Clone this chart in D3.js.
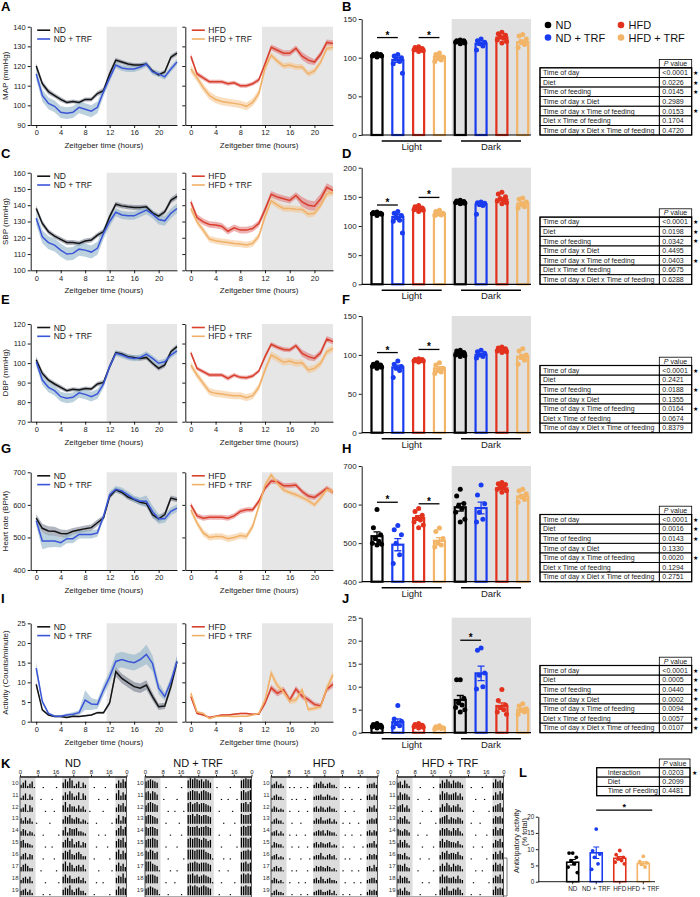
<!DOCTYPE html>
<html>
<head>
<meta charset="utf-8">
<script src="https://cdn.jsdelivr.net/npm/d3@7"></script>
<style>
body { margin: 0; background: #fff; }
svg { display: block; font-family: "Liberation Sans", Arial, sans-serif; }
</style>
</head>
<body>
<div id="fig"></div>
<script>

// ---------- data ----------
var zt = [0,1,2,3,4,5,6,7,8,9,10,11,12,13,14,15,16,17,18,19,20,21,22,23];
var ztTicks = [0,4,8,12,16,20];

// MAP
var mapND = [120,111,107,105,103,101.5,102,101.5,103,103,106,107.5,116,123,122,121,120.5,120.5,121,117.5,115.5,117,124.5,126.5];
var mapNDsem = [1.5,1.5,1.5,1.2,1.2,1,1,1,1,1,1.2,1.5,1.5,1.2,1,1,1,1,1,1,1,1,1.2,1.2];
var mapTRF = [116,105,101,99.5,96.5,96,96.5,99,98,97,99,107,114,120.5,119,118.5,118.5,119.5,121,117,116,114.5,118.5,122];
var mapTRFsem = [3,3,3,3,3,3,3,3,3,3,3,2.5,2,1.5,1.5,1.5,1.5,1.5,1.5,1.5,1.5,1.5,1.5,1.5];
var mapHFD = [125,116,114,112,112,112,111,111.5,110,110,111,113,121,129.5,128,126.5,126.5,129,125,123,122,126,132,131.5];
var mapHFDsem = [1.5,1.2,1.2,1,1,1,1,1,1,1,1,1.2,1.5,1.5,1.5,1.5,1.5,1.5,2,2,1.5,1.5,1.5,1.5];
var mapHTRF = [118.5,114,109,105,103,102,101.5,101,100.5,99.5,101.5,106,119,125.5,122.5,120,120.5,119.5,119.5,116,117.5,122,129,129.5];
var mapHTRFsem = [2,2,2,2,2,2,2,2,2,2,2,2,2,1.5,1.5,1.5,1.5,1.5,1.5,1.5,1.5,1.5,1.5,1.5];

// SBP
var sbpND = [138,128.8,123.7,121,119,117.1,117.1,116.5,118,118.6,121.6,123.7,133,140.6,139.6,139,138.6,138.6,139,135.3,133.3,136,143,145.5];
var sbpNDsem = [2,1.8,1.5,1.5,1.5,1.5,1.5,1.5,1.5,1.5,1.5,1.8,1.8,1.5,1.5,1.5,1.5,1.5,1.5,1.5,1.5,1.5,1.8,1.8];
var sbpTRF = [132,120.6,117,115.5,112.4,110,110.4,113,112.4,111.2,113.5,122.7,130,135.7,134,133.5,133.5,135.3,137,134.5,131.2,130.4,135,138];
var sbpTRFsem = [4,4,4,4,4,4,4,4,4,4,4,3.5,3,2.5,2.5,2.5,2.5,2.5,2.5,2.5,3,3,3,3];
var sbpHFD = [142,132.4,129.8,128.2,127.8,127.1,124,126.1,124.7,124.7,125.7,128.8,137.3,146.7,145,144,143,146,142,140,139.4,144,151,149];
var sbpHFDsem = [2,2,2,2,2,2,2,2,2,2,2,2,2,2,2,2,2,2,3,3,3,3,2.5,2.5];
var sbpHTRF = [138,129.8,124.7,119.2,118.2,117.5,117.1,116.5,116.1,115.5,116.5,121,133,142.7,140,138,138,137.6,137.4,134.5,135,140,147,148];
var sbpHTRFsem = [2,2,2,2,2,2,2,2,2,2,2,2,2,2,2,2,2,2,2,2,2,2,2,2];

// DBP
var dbpND = [101.7,94.7,91.3,89.3,87.6,85.9,86.6,86.2,87,86.7,89.3,90.1,98.2,105.3,104.6,103.3,102.8,102.4,102.9,99.9,97.3,99,105.8,108.4];
var dbpNDsem = [1.5,1.5,1.2,1.2,1.2,1,1,1,1,1,1.2,1.2,1.2,1.2,1.2,1.2,1.2,1.2,1.2,1.2,1.2,1.2,1.2,1.2];
var dbpTRF = [100.7,91.3,87.6,85.9,82.8,82,82.5,84.8,84,82.8,84.2,89.3,98.2,105,104.1,102.9,102.4,102.9,104.6,102.4,99.9,100.7,104.1,106.3];
var dbpTRFsem = [2.5,2.5,2.5,2.5,2.5,2.5,2.5,2.5,2.5,2.5,2.5,2,1.5,1.5,1.5,1.5,1.5,1.5,1.5,1.5,1.5,1.5,1.5,1.5];
var dbpHFD = [105.3,97.3,95.6,93.9,93.9,93.9,92.2,93.9,92.7,92.5,93.4,95.9,103.3,109.6,108.1,107,106.7,108.9,105,103.3,102.4,105.3,112.3,111];
var dbpHFDsem = [1.2,1,1,1,1,1,1.2,1,1,1,1,1,1.2,1.2,1.2,1.2,1.2,1.2,1.8,1.8,1.5,1.5,1.5,1.5];
var dbpHTRF = [99,93.9,89.6,85.4,84.5,84.2,83.7,83.3,83.3,82.3,83.3,87.6,96.5,104.1,102.4,100.4,101,99.9,100.2,96.5,97.3,99.9,105.8,107.5];
var dbpHTRFsem = [1.8,1.8,1.8,1.8,1.8,1.8,1.8,1.8,1.8,1.8,1.8,1.8,1.8,1.8,1.8,1.8,1.8,1.8,1.8,1.8,1.8,1.8,1.8,1.8];

// heart rate
var hrND = [559,528,520,519,512,511,519,523,527,530,545,560,626,646,638,624,616,608,604,570,557,570,621,616];
var hrNDsem = [12,14,14,14,12,12,10,10,10,10,10,8,8,8,8,8,8,8,8,10,10,10,8,8];
var hrTRF = [551,489,489,489,484,496,496,509,509,509,514,565,631,648,643,631,618,611,611,580,557,557,580,590];
var hrTRFsem = [15,25,20,18,15,14,14,12,12,12,12,10,10,10,10,10,10,12,18,18,15,12,12,12];
var hrHFD = [600,566,559,562,562,562,559,566,580,585,585,611,651,673,671,659,659,661,641,627,623,636,651,639];
var hrHFDsem = [8,8,8,8,8,8,8,8,8,8,8,8,8,8,8,8,8,8,8,8,8,8,8,8];
var hrHTRF = [585,544,514,500,503,503,496,500,506,503,534,595,661,692,666,646,638,631,623,613,600,621,648,641];
var hrHTRFsem = [10,10,10,10,10,10,10,10,10,10,10,10,10,8,8,8,8,8,8,8,8,8,8,8];

// activity
var actND = [9.5,3,1.7,1.3,1.3,1.1,1.4,1.3,1.5,1.7,2.3,2.3,4.8,12.7,11,9.9,8.9,8.5,9.3,6.4,3.8,4,8.9,15.3];
var actNDsem = [0.8,0.3,0.2,0.2,0.2,0.2,0.2,0.2,0.2,0.2,0.3,0.3,0.6,1.2,1.2,1.2,1.2,1.2,1.2,1,0.8,0.8,1,1.2];
var actTRF = [13.6,5.1,2.1,1.4,1.4,1.7,1.9,2.3,5.5,4.5,4.4,8.1,11.4,15.3,15.8,15.3,15,15.8,17.1,14.8,8.5,6.4,10.2,15.3];
var actTRFsem = [1.5,0.6,0.3,0.3,0.3,0.4,0.5,0.6,2.5,1.5,1.2,1.5,1.5,2,2,2,2,2,2.5,2,1.5,1,1.2,1.5];
var actHFD = [6.4,2.1,1.7,1.1,1.4,1.7,1.7,1.9,2.1,2.1,1.9,1.9,4.7,8.6,7.2,8.1,5.5,8.3,6.5,5.6,4.4,4,8.3,9.5];
var actHFDsem = [0.6,0.3,0.2,0.2,0.2,0.2,0.2,0.2,0.2,0.2,0.2,0.2,0.5,0.8,0.8,0.8,0.8,0.8,0.8,0.7,0.6,0.6,0.8,0.8];
var actHTRF = [7.2,2.5,2.1,0.8,1.3,1.4,1.4,1.3,1.4,1.4,1.7,2.1,5.5,12.3,9.1,7.6,5.3,5.5,8.1,3.1,3.4,3.8,8.5,11.9];
var actHTRFsem = [0.8,0.3,0.3,0.2,0.2,0.2,0.2,0.2,0.2,0.2,0.2,0.3,0.6,1,1,0.8,0.8,0.8,0.8,0.6,0.6,0.6,1,1];

// bar panels: order ND, ND+TRF, HFD, HFD+TRF (light) then the same (dark)
var mapBar = [103,97,111,101,121,118,126,120];
var mapPts = [[105,104,104,103,103,102,102,101],[104,102,100,98,95,92,80],[114,113,112,111,110,110,109,108],[106,104,101,99,97,95],
              [123,122,122,121,120,120,119,118],[124,122,120,118,115,110],[133,131,129,127,125,123,121,119],[130,128,124,121,117,113]];
var sbpBar = [122,115.5,130,121,141,137,145.5,138.5];
var sbpPts = [[124,123,122,122,121,121,120,118],[125,122,118,115,110,108,88],[135,133,131,130,129,128,127,125],[127,125,122,120,119,118],
              [144,143,142,141,140,140,139,138],[141,140,139,138,135,120],[158,155,150,147,145,143,140,138],[148,146,141,137,133,131]];
var dbpBar = [85.7,84,93.4,82.7,102,100,106.3,97.7];
var dbpPts = [[90,88,87,86,85,85,84,83],[92,88,85,83,80,71],[95,94,94,93,93,92,92,91],[90,87,83,80,78,76],
              [106,105,103,102,101,100,99,98],[106,104,102,100,98,96],[110,109,108,107,106,105,104,103],[108,105,100,97,93,88]];
var hrBar = [518,496,565,506,593,591,642,621];
var hrPts = [[587,540,522,512,505,500,497,495],[546,535,522,500,470,447],[590,582,572,565,560,555,547,540],[539,530,512,500,495,490],
             [640,622,603,596,590,580,562,555],[651,625,602,580,562,555],[657,654,652,649,646,640,636,632],[640,636,628,620,613,606]];
var actBar = [1.5,2.3,1.5,1.1,7.1,12.9,5.8,5];
var actPts = [[2,1.8,1.6,1.5,1.4,1.3,1.2,1.0],[5.9,3,2.5,2,1.5,1.2],[2,1.8,1.6,1.5,1.4,1.3,1.2,1],[1.5,1.3,1.1,1,0.9,0.8],
              [11.5,11.5,7.5,6.5,6,5.5,5,4.5],[18.4,17.9,13,12.5,10,9.5],[9.4,7,6,5.5,5,4.5,4],[6.3,5.8,5.2,4.8,4.5,4]];

// significance bars [from, to, height]
var sigB = [[0,1,126],[2,3,126]];
var sigD = [[0,1,136],[2,3,149]];
var sigF = [[0,1,103],[2,3,107]];
var sigH = [[0,1,606],[2,3,602]];
var sigJ = [[4,5,20.1]];

// anova tables
var anovaRows = ["Time of day","Diet","Time of feeding","Time of day x Diet","Time of day x Time of feeding","Diet x Time of feeding","Time of day x Diet x Time of feeding"];
var pMap = ["<0.0001","0.0226","0.0145","0.2989","0.0153","0.1704","0.4720"];
var pSbp = ["<0.0001","0.0198","0.0342","0.4495","0.0403","0.6675","0.6288"];
var pDbp = ["<0.0001","0.2421","0.0188","0.1355","0.0164","0.0674","0.8379"];
var pHr  = ["<0.0001","0.0016","0.0143","0.1330","0.0020","0.1294","0.2751"];
var pAct = ["<0.0001","0.0005","0.0440","0.0002","0.0094","0.0057","0.0107"];
var antRows = ["Interaction","Diet","Time of Feeding"];
var pAnt = ["0.0203","0.2099","0.4481"];

// anticipatory activity (L)
var groups = ["ND","ND + TRF","HFD","HFD + TRF"];
var antMean = [6,8.9,7.2,5.6];
var antPts = [[8.8,8.8,7.5,6.5,5.5,4.5,2.8],[16.2,9.5,8.5,7.5,5.5,3.8],[9.6,8.3,7.5,7,6.5,6,5.5],[7.8,6.2,5.8,5.3,4.5]];

// actograms (K): one string per day, hourly activity level 0-9 from clock hour 0
var actDays = [10,11,12,13,14,15,16,17,18,19];
var actTickLabels = ["0","8","16","0","8","16","0"];
var actoND = ["357246100010000010058697","246153000100001000047586","347164000001000100069475","536352010000010000047685",
  "465243100010000001058376","674432000001001000057968","356254000010000100068795","467533000100000010079586",
  "356462000001000001068574","456352000010010000057695","367442000100000010058676"];
var actoTRF = ["678765000100000010079898","786875001000001000078988","689876000010010001089789","788765000100000100088979",
  "878876000001000010098889","788987000100001000089899","879867000010000001099989","999765100001001000078898",
  "788876000100010000088978","678765100010000010089898","789876000100001000088988"];
var actoHFD = ["346342001010010010035464","245331000101000100034453","354232001000100010045354","245331000100010000035463",
  "345242001001000100034545","254331000100100010045354","345232001000010001034463","245341000101000010035454",
  "354231001000100100045364","245332000100010010034553","345241001001000010035454"];
var actoHTRF = ["563742000010000010047586","475653000100001000058675","567463000001000100047586","465742000010000001056784",
  "654653000100010000057675","475742000001000010068576","554632000010001000047685","665743000100000010057586",
  "475652000001001000068675","564743000010000001057684","465752000100010000058676"];

// ---------- colours ----------
var colND = "#141414", colTRF = "#3b55d9", colHFD = "#d8402c", colHTRF = "#f0b068";
var barCols = ["#000000","#1a3cf0","#e2321e","#f2b466"];
var FONT = "Liberation Sans, Arial, sans-serif";

var svg = d3.select("#fig").append("svg").attr("width", 700).attr("height", 897);

function styleAxis(sel, fs){
  sel.attr("font-size", fs || 7.5).attr("font-family", FONT);
  sel.selectAll("path, line").attr("stroke", "#000").attr("stroke-width", 0.9);
  sel.selectAll("text").attr("fill", "#222");
}

function letter(t, x, y){
  svg.append("text").attr("x", x).attr("y", y).attr("font-size", 13).attr("font-weight", "bold").text(t);
}

// line chart with SEM band
function linePanel(o){
  var g = svg.append("g");
  var x = d3.scaleLinear().domain([-0.9, 23]).range(o.xr);
  var y = d3.scaleLinear().domain(o.dom).range([o.yr[1], o.yr[0]]);

  g.append("rect")
    .attr("x", x(11.5)).attr("y", o.yr[0])
    .attr("width", o.xr[1] - x(11.5)).attr("height", o.yr[1] - o.yr[0])
    .attr("fill", "#e6e6e6");

  o.series.forEach(function(s){
    var area = d3.area()
      .x(function(d, i){ return x(zt[i]); })
      .y0(function(d, i){ return y(d - s.sem[i]); })
      .y1(function(d, i){ return y(d + s.sem[i]); });
    g.append("path").datum(s.mean).attr("d", area).attr("fill", s.band).attr("opacity", s.op);
  });
  o.series.forEach(function(s){
    var line = d3.line()
      .x(function(d, i){ return x(zt[i]); })
      .y(function(d){ return y(d); });
    g.append("path").datum(s.mean).attr("d", line)
      .attr("fill", "none").attr("stroke", s.color).attr("stroke-width", 1.5);
  });

  var ya = g.append("g").attr("transform", "translate(" + o.xr[0] + ",0)")
    .call(d3.axisLeft(y).tickValues(o.ticks).tickSize(3).tickSizeOuter(0).tickPadding(2)
      .tickFormat(o.labels ? d3.format("d") : ""));
  styleAxis(ya);
  var xa = g.append("g").attr("transform", "translate(0," + o.yr[1] + ")")
    .call(d3.axisBottom(x).tickValues(ztTicks).tickSize(3).tickSizeOuter(0).tickPadding(2));
  styleAxis(xa);

  g.append("text")
    .attr("x", (o.xr[0] + o.xr[1]) / 2).attr("y", o.yr[1] + 23)
    .attr("text-anchor", "middle").attr("font-size", 8).attr("fill", "#222")
    .text("Zeitgeber time (hours)");

  if (o.ylabel){
    g.append("text")
      .attr("transform", "translate(8," + ((o.yr[0] + o.yr[1]) / 2) + ") rotate(-90)")
      .attr("text-anchor", "middle").attr("font-size", 8).attr("fill", "#222")
      .text(o.ylabel);
  }

  // legend
  o.series.forEach(function(s, k){
    var ly = o.yr[0] + 3.5 + k * 8.8;
    g.append("line").attr("x1", o.xr[0] + 6.5).attr("x2", o.xr[0] + 19.5)
      .attr("y1", ly).attr("y2", ly).attr("stroke", s.color).attr("stroke-width", 1.6);
    g.append("text").attr("x", o.xr[0] + 23).attr("y", ly + 3)
      .attr("font-size", 8.5).attr("fill", "#222").text(s.name);
  });
}

// bar + dot chart (light / dark)
var jit = [0,-3.6,3.6,-1.8,1.8,-4.6,4.6,0];
function barPanel(o){
  var g = svg.append("g");
  var x = d3.scalePoint().domain([0,1,2,3,4,5,6,7]).range([377, 522.7]);
  var y = d3.scaleLinear().domain(o.dom).range([o.yr[1], o.yr[0]]);
  var ax = 361.7;

  g.append("rect").attr("x", 451.7).attr("y", o.yr[0])
    .attr("width", 531 - 451.7).attr("height", o.yr[1] - o.yr[0]).attr("fill", "#e0e0e0");

  g.selectAll(".bar").data(o.mean).enter().append("rect")
    .attr("class", "bar")
    .attr("x", function(d, i){ return x(i) - 5.5; })
    .attr("y", function(d){ return y(d); })
    .attr("width", 11)
    .attr("height", function(d){ return o.yr[1] - y(d); })
    .attr("fill", "none")
    .attr("stroke", function(d, i){ return barCols[i % 4]; })
    .attr("stroke-width", 2.2);

  o.pts.forEach(function(arr, i){
    g.selectAll(".pt" + i).data(arr).enter().append("circle")
      .attr("cx", function(d, k){ return x(i) + jit[k % jit.length]; })
      .attr("cy", function(d){ return y(d); })
      .attr("r", 2.5)
      .attr("fill", barCols[i % 4]);
    var sem = d3.deviation(arr) / Math.sqrt(arr.length);
    var m = o.mean[i];
    g.append("path")
      .attr("d", "M" + (x(i) - 3.5) + "," + y(m + sem) + "H" + (x(i) + 3.5) +
                 "M" + x(i) + "," + y(m + sem) + "V" + y(m - sem) +
                 "M" + (x(i) - 3.5) + "," + y(m - sem) + "H" + (x(i) + 3.5))
      .attr("stroke", barCols[i % 4]).attr("stroke-width", 1.3).attr("fill", "none");
  });

  var ya = g.append("g").attr("transform", "translate(" + ax + ",0)")
    .call(d3.axisLeft(y).tickValues(o.ticks).tickSize(3).tickSizeOuter(0).tickPadding(2));
  styleAxis(ya, 8);
  g.append("line").attr("x1", ax).attr("x2", 531).attr("y1", o.yr[1]).attr("y2", o.yr[1])
    .attr("stroke", "#000").attr("stroke-width", 1.2);

  // light / dark brackets
  [["Light", 381.7, 441.7], ["Dark", 461, 521]].forEach(function(p){
    g.append("line").attr("x1", p[1]).attr("x2", p[2]).attr("y1", o.yr[1] + 6).attr("y2", o.yr[1] + 6)
      .attr("stroke", "#000").attr("stroke-width", 1.4);
    g.append("text").attr("x", (p[1] + p[2]) / 2).attr("y", o.yr[1] + 15)
      .attr("text-anchor", "middle").attr("font-size", 9.5).attr("fill", "#222").text(p[0]);
  });

  o.sig.forEach(function(s){
    g.append("line").attr("x1", x(s[0])).attr("x2", x(s[1])).attr("y1", y(s[2])).attr("y2", y(s[2]))
      .attr("stroke", "#000").attr("stroke-width", 1.3);
    g.append("text").attr("x", (x(s[0]) + x(s[1])) / 2).attr("y", y(s[2]) + 1)
      .attr("text-anchor", "middle").attr("font-size", 10).attr("font-weight", "bold").text("*");
  });
}

// ANOVA p-value table
function pTable(o){
  var g = svg.append("g").attr("font-size", 7).attr("fill", "#222");
  var xv = 659.3, x1 = o.x1 || 691.7;
  var rowH = o.rowH || 9.6;
  var top = o.bottom - rowH * o.rows.length;
  var hh = o.hh || 8.3;

  g.append("rect").attr("x", xv).attr("y", top - hh).attr("width", x1 - xv).attr("height", hh)
    .attr("fill", "none").attr("stroke", "#000").attr("stroke-width", 0.8);
  var ht = g.append("text").attr("x", (xv + x1) / 2).attr("y", top - 2).attr("text-anchor", "middle");
  ht.append("tspan").attr("font-style", "italic").text("P");
  ht.append("tspan").text(" value");

  o.rows.forEach(function(r, i){
    var ry = top + i * rowH;
    g.append("rect").attr("x", o.x0).attr("y", ry).attr("width", xv - o.x0).attr("height", rowH)
      .attr("fill", "none").attr("stroke", "#000").attr("stroke-width", 0.8);
    g.append("rect").attr("x", xv).attr("y", ry).attr("width", x1 - xv).attr("height", rowH)
      .attr("fill", "none").attr("stroke", "#000").attr("stroke-width", 0.8);
    g.append("text").attr("x", o.x0 + (o.pad || 3)).attr("y", ry + rowH - 2.3).text(r);
    g.append("text").attr("x", xv + 3).attr("y", ry + rowH - 2.3).text(o.p[i]);
    if (parseFloat(o.p[i].replace("<", "")) < 0.05){
      g.append("text").attr("x", x1 + 4.2).attr("y", ry + rowH - 2.5).attr("font-size", 6)
        .attr("text-anchor", "middle").attr("fill", "#000").text("\u2605");
    }
  });
  g.append("rect").attr("x", o.x0).attr("y", top).attr("width", x1 - o.x0).attr("height", rowH * o.rows.length)
    .attr("fill", "none").attr("stroke", "#000").attr("stroke-width", 1.2);
}

// double-plotted actogram
function actogram(o){
  var g = svg.append("g");
  var top = 776.7, rowH = 11.9;
  var x = d3.scaleLinear().domain([0, 48]).range([o.x0, o.x0 + 106.5]);
  var y = d3.scaleBand().domain(actDays).range([top, top + rowH * actDays.length]);

  [[0, 7], [19, 31], [43, 48]].forEach(function(b){
    g.append("rect").attr("x", x(b[0])).attr("y", top)
      .attr("width", x(b[1]) - x(b[0])).attr("height", rowH * actDays.length).attr("fill", "#dcdcdc");
  });

  var recs = [];
  actDays.forEach(function(day, r){
    for (var h = 0; h < 48; h++){
      var s = o.data[r + (h >= 24 ? 1 : 0)];
      recs.push({ day: day, h: h, v: +s[h % 24] });
    }
  });
  g.selectAll(".act").data(recs).enter().append("rect")
    .attr("x", function(d){ return x(d.h) + 0.4; })
    .attr("width", 1.3)
    .attr("y", function(d){ return y(d.day) + rowH - 0.5 - d.v / 9 * (rowH - 2); })
    .attr("height", function(d){ return d.v / 9 * (rowH - 2); })
    .attr("fill", "#000");

  g.append("rect").attr("x", o.x0).attr("y", top).attr("width", 106.5).attr("height", 897 - top)
    .attr("fill", "none").attr("stroke", "#333").attr("stroke-width", 0.8);

  var xa = g.append("g").attr("transform", "translate(0," + top + ")")
    .call(d3.axisTop(x).tickValues([0, 8, 16, 24, 32, 40, 48]).tickSize(2).tickSizeOuter(0).tickPadding(1)
      .tickFormat(function(d, i){ return actTickLabels[i]; }));
  styleAxis(xa, 6);

  g.selectAll(".dl").data(actDays).enter().append("text")
    .attr("x", o.x0 - 1.5).attr("y", function(d){ return y(d) + 8; })
    .attr("text-anchor", "end").attr("font-size", 6).attr("fill", "#333")
    .text(function(d){ return d; });

  g.append("text").attr("x", o.x0 + 53).attr("y", 767)
    .attr("text-anchor", "middle").attr("font-size", 11).attr("fill", "#111").text(o.title);
}

// ---------- rows A-J ----------
var leftX = [30.7, 177], rightX = [185.3, 333];
var rowsDef = [
  { L: "A", R: "B", yr: [26.7, 125], dom: [90, 140], ticks: [90,100,110,120,130,140], ylabel: "MAP (mmHg)",
    nd: [mapND, mapNDsem, mapTRF, mapTRFsem], hf: [mapHFD, mapHFDsem, mapHTRF, mapHTRFsem],
    byr: [19, 135], bdom: [0, 150], bticks: [0,50,100,150], bar: mapBar, pts: mapPts, sig: sigB, p: pMap, ly: 11 },
  { L: "C", R: "D", yr: [172.7, 270.3], dom: [100, 160], ticks: [100,110,120,130,140,150,160], ylabel: "SBP (mmHg)",
    nd: [sbpND, sbpNDsem, sbpTRF, sbpTRFsem], hf: [sbpHFD, sbpHFDsem, sbpHTRF, sbpHTRFsem],
    byr: [167.7, 284.3], bdom: [0, 200], bticks: [0,50,100,150,200], bar: sbpBar, pts: sbpPts, sig: sigD, p: pSbp, ly: 158 },
  { L: "E", R: "F", yr: [324, 421.7], dom: [70, 120], ticks: [70,80,90,100,110,120], ylabel: "DBP (mmHg)",
    nd: [dbpND, dbpNDsem, dbpTRF, dbpTRFsem], hf: [dbpHFD, dbpHFDsem, dbpHTRF, dbpHTRFsem],
    byr: [316, 432.7], bdom: [0, 150], bticks: [0,50,100,150], bar: dbpBar, pts: dbpPts, sig: sigF, p: pDbp, ly: 304 },
  { L: "G", R: "H", yr: [472.3, 570], dom: [400, 700], ticks: [400,500,600,700], ylabel: "Heart rate (BPM)",
    nd: [hrND, hrNDsem, hrTRF, hrTRFsem], hf: [hrHFD, hrHFDsem, hrHTRF, hrHTRFsem],
    byr: [466, 581.7], bdom: [400, 700], bticks: [400,500,600,700], bar: hrBar, pts: hrPts, sig: sigH, p: pHr, ly: 453 },
  { L: "I", R: "J", yr: [623.3, 721.7], dom: [0, 25], ticks: [0,5,10,15,20,25], ylabel: "Activity (Counts/minute)",
    nd: [actND, actNDsem, actTRF, actTRFsem], hf: [actHFD, actHFDsem, actHTRF, actHTRFsem],
    byr: [617.7, 732.7], bdom: [0, 25], bticks: [0,5,10,15,20,25], bar: actBar, pts: actPts, sig: sigJ, p: pAct, ly: 603 }
];

rowsDef.forEach(function(r){
  linePanel({ xr: leftX, yr: r.yr, dom: r.dom, ticks: r.ticks, labels: true, ylabel: r.ylabel,
    series: [
      { name: "ND", mean: r.nd[0], sem: r.nd[1], color: colND, band: "#4f5a72", op: 0.45 },
      { name: "ND + TRF", mean: r.nd[2], sem: r.nd[3], color: colTRF, band: "#8fb2c8", op: 0.6 }
    ] });
  linePanel({ xr: rightX, yr: r.yr, dom: r.dom, ticks: r.ticks, labels: false,
    series: [
      { name: "HFD", mean: r.hf[0], sem: r.hf[1], color: colHFD, band: "#e06464", op: 0.5 },
      { name: "HFD + TRF", mean: r.hf[2], sem: r.hf[3], color: colHTRF, band: "#f4c48c", op: 0.55 }
    ] });
  barPanel({ yr: r.byr, dom: r.bdom, ticks: r.bticks, mean: r.bar, pts: r.pts, sig: r.sig });
  pTable({ x0: 540, bottom: r.byr[1], rows: anovaRows, p: r.p });
  letter(r.L, 1, r.ly);
  letter(r.R, 342, r.ly);
});

// legend of B
[["ND", 548, 25, 0], ["ND + TRF", 548, 37.5, 1], ["HFD", 621, 25, 2], ["HFD + TRF", 621, 37.5, 3]].forEach(function(l){
  svg.append("circle").attr("cx", l[1]).attr("cy", l[2]).attr("r", 3.3).attr("fill", barCols[l[3]]);
  svg.append("text").attr("x", l[1] + 7.5).attr("y", l[2] + 4).attr("font-size", 11).attr("fill", "#111").text(l[0]);
});

// ---------- K ----------
letter("K", 1, 768);
actogram({ x0: 20, title: "ND", data: actoND });
actogram({ x0: 145, title: "ND + TRF", data: actoTRF });
actogram({ x0: 271, title: "HFD", data: actoHFD });
actogram({ x0: 397, title: "HFD + TRF", data: actoHTRF });
svg.append("path").attr("d", "M503,858H507V896H503").attr("fill", "none").attr("stroke", "#555").attr("stroke-width", 0.8);

// ---------- L ----------
letter("L", 519, 777);
(function(){
  var g = svg.append("g");
  var x = d3.scalePoint().domain([0,1,2,3]).range([572.7, 643.3]);
  var y = d3.scaleLinear().domain([0, 20]).range([881.7, 816.7]);

  g.selectAll(".bar").data(antMean).enter().append("rect")
    .attr("x", function(d, i){ return x(i) - 6; })
    .attr("y", function(d){ return y(d); })
    .attr("width", 12)
    .attr("height", function(d){ return y(0) - y(d); })
    .attr("fill", "none")
    .attr("stroke", function(d, i){ return barCols[i]; })
    .attr("stroke-width", 1.6);

  antPts.forEach(function(arr, i){
    g.selectAll(".pt" + i).data(arr).enter().append("circle")
      .attr("cx", function(d, k){ return x(i) + jit[k % jit.length]; })
      .attr("cy", function(d){ return y(d); })
      .attr("r", 1.9)
      .attr("fill", barCols[i]);
    var sem = d3.deviation(arr) / Math.sqrt(arr.length);
    var m = antMean[i];
    g.append("path")
      .attr("d", "M" + (x(i) - 3) + "," + y(m + sem) + "H" + (x(i) + 3) +
                 "M" + x(i) + "," + y(m + sem) + "V" + y(m - sem) +
                 "M" + (x(i) - 3) + "," + y(m - sem) + "H" + (x(i) + 3))
      .attr("stroke", barCols[i]).attr("stroke-width", 1.1).attr("fill", "none");
  });

  var ya = g.append("g").attr("transform", "translate(538.3,0)")
    .call(d3.axisLeft(y).tickValues([0,5,10,15,20]).tickSize(2.5).tickSizeOuter(0).tickPadding(1.5));
  styleAxis(ya, 6.3);
  g.append("line").attr("x1", 538.3).attr("x2", 655).attr("y1", y(0)).attr("y2", y(0))
    .attr("stroke", "#000").attr("stroke-width", 0.9);
  groups.forEach(function(t, i){
    g.append("line").attr("x1", x(i)).attr("x2", x(i)).attr("y1", y(0)).attr("y2", y(0) + 2.5).attr("stroke", "#000").attr("stroke-width", 0.8);
    g.append("text").attr("x", x(i)).attr("y", 891).attr("text-anchor", "middle")
      .attr("font-size", 6.3).attr("fill", "#222").text(t);
  });
  g.append("text").attr("transform", "translate(519,841) rotate(-90)").attr("text-anchor", "middle")
    .attr("font-size", 7.5).attr("fill", "#222").text("Anticipatory activity");
  g.append("text").attr("transform", "translate(527,832) rotate(-90)").attr("text-anchor", "middle")
    .attr("font-size", 7.5).attr("fill", "#222").text("(% total)");

  g.append("line").attr("x1", x(1)).attr("x2", x(3) + 9).attr("y1", y(22)).attr("y2", y(22))
    .attr("stroke", "#000").attr("stroke-width", 1.2);
  g.append("text").attr("x", (x(1) + x(3) + 9) / 2).attr("y", y(22) - 0.5).attr("text-anchor", "middle")
    .attr("font-size", 9).attr("font-weight", "bold").text("*");

  pTable({ x0: 596.7, x1: 690, bottom: 795.7, rowH: 9.33, hh: 8.7, pad: 11, rows: antRows, p: pAnt });
})();

</script>
</body>
</html>
